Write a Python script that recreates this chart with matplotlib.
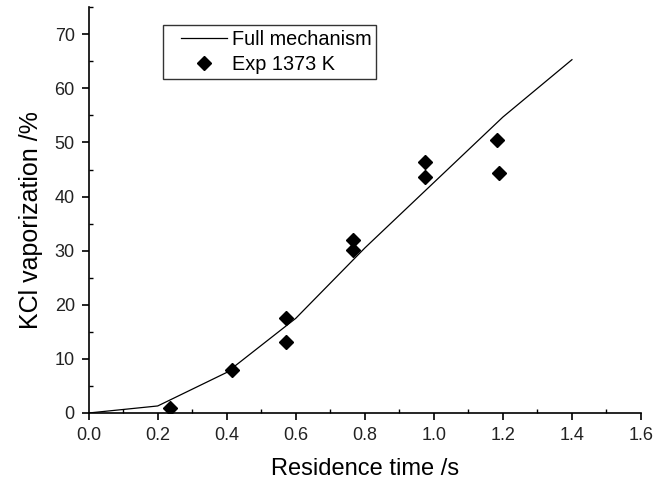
import matplotlib
matplotlib.use('Agg')
import matplotlib.pyplot as plt
from matplotlib.ticker import MultipleLocator
from matplotlib.legend_handler import HandlerLine2D

plt.rcParams['font.family'] = ['Liberation Sans', 'DejaVu Sans']

# model curve
model_t = [0.0, 0.2, 0.4, 0.6, 0.8, 1.0, 1.2, 1.4]
model_v = [0.0, 1.3, 7.5, 17.5, 30.5, 42.6, 54.7, 65.3]

# experimental points
exp_t = [0.235, 0.416, 0.571, 0.571, 0.767, 0.767, 0.975, 0.975, 1.182, 1.189]
exp_v = [0.9, 8.0, 17.5, 13.2, 32.0, 30.2, 46.3, 43.6, 50.4, 44.4]

fig = plt.figure(figsize=(6.54, 4.8), dpi=100)
ax = fig.add_axes([0.1356, 0.1396, 0.8445, 0.8454])

line, = ax.plot(model_t, model_v, color='black', linewidth=0.9, label='Full mechanism')
pts, = ax.plot(exp_t, exp_v, linestyle='none', marker='D', markersize=7,
               color='black', label='Exp 1373 K')

ax.set_xlim(0, 1.6)
ax.set_ylim(0, 75)
ax.xaxis.set_minor_locator(MultipleLocator(0.1))
ax.yaxis.set_minor_locator(MultipleLocator(5))
ax.set_xticks([0.0, 0.2, 0.4, 0.6, 0.8, 1.0, 1.2, 1.4, 1.6])
ax.set_xticklabels(['0.0', '0.2', '0.4', '0.6', '0.8', '1.0', '1.2', '1.4', '1.6'])
ax.set_yticks([0, 10, 20, 30, 40, 50, 60, 70])

ax.spines['top'].set_visible(False)
ax.spines['right'].set_visible(False)
ax.spines['left'].set_linewidth(1.2)
ax.spines['bottom'].set_linewidth(1.2)
ax.tick_params(which='major', direction='out', length=5, width=1.2, labelsize=13,
               labelcolor='#222222', pad=5)
ax.tick_params(which='minor', direction='in', length=3, width=1)

ax.set_xlabel('Residence time /s', fontsize=17, labelpad=10)
ax.set_ylabel('KCl vaporization /%', fontsize=18)
ax.yaxis.set_label_coords(-0.083, 0.475)

leg = ax.legend(loc='upper left', bbox_to_anchor=(0.135, 0.955), fontsize=14.3,
                frameon=True, fancybox=False, edgecolor='black', handlelength=2.95,
                borderpad=0.25, labelspacing=0.3, handletextpad=0.25, borderaxespad=0,
                handler_map={line: HandlerLine2D(xpad=0.62), pts: HandlerLine2D(xpad=0.62)})
leg.get_frame().set_linewidth(1)

fig.savefig('out.png', dpi=100)
